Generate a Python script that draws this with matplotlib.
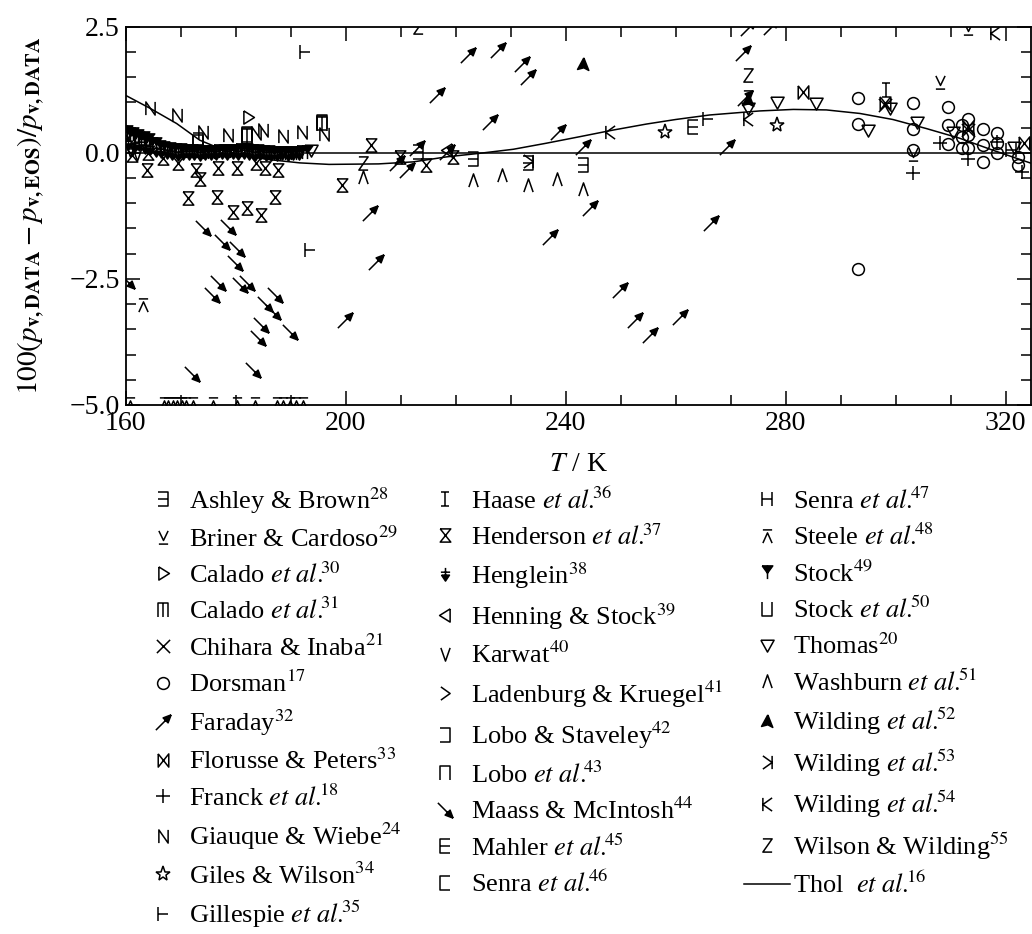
import matplotlib
matplotlib.use("Agg")
import matplotlib.pyplot as plt
from matplotlib.path import Path
from matplotlib.ticker import MultipleLocator, FuncFormatter

plt.rcParams['font.family'] = ['Liberation Serif', 'DejaVu Serif']
plt.rcParams['mathtext.fontset'] = 'stix'

''' Datos leidos de la figura: desviaciones en % frente a T / K '''

ASHLEY_T = [213.2, 223.2, 233.2, 243.2]
ASHLEY_D = [0.02, -0.13, -0.21, -0.24]
BRINER_T = [303.2, 308.0, 313.2]
BRINER_D = [-0.02, 1.41, 2.47]
CALADO30_T = [182.3]
CALADO30_D = [0.71]
CALADO31_T = [182.0, 195.7]
CALADO31_D = [0.33, 0.57]
CHIHARA_T = [298.0, 313.2]
CHIHARA_D = [0.95, 0.45]
DORSMAN_T = [293.2, 293.2, 293.2, 303.2, 303.2, 303.2, 309.5, 309.5, 309.5, 312.0, 312.0, 312.0,
             313.2, 313.2, 313.2, 315.9, 315.9, 315.9, 318.4, 318.4, 318.4, 322.2, 322.2]
DORSMAN_D = [1.08, 0.57, -2.31, 0.99, 0.48, 0.05, 0.91, 0.55, 0.17, 0.55, 0.32, 0.09,
             0.68, 0.35, 0.09, 0.48, 0.15, -0.18, 0.40, 0.19, -0.01, -0.08, -0.24]
FARADAY_T = [199.9, 204.4, 205.6, 209.3, 211.1, 212.9, 216.6, 218.4, 222.3, 226.2, 227.7, 232.0,
             233.2, 237.1, 238.6, 243.2, 244.4, 249.9, 252.6, 255.3, 260.8, 266.5, 269.3, 272.3,
             272.6, 273.2, 277.4]
FARADAY_D = [-3.32, -1.20, -2.16, -0.21, -0.34, 0.09, 1.14, 0.02, 1.94, 0.62, 2.04, 1.77,
             1.51, -1.67, 0.42, 0.12, -1.10, -2.72, -3.32, -3.62, -3.25, -1.40, 0.12, 1.97,
             1.08, 2.47, 2.50]
FLORUSSE_T = [283.2, 298.0, 313.2, 323.4]
FLORUSSE_D = [1.21, 0.98, 0.52, 0.19]
FRANCK_T = [303.2, 308.0, 313.2, 318.4, 323.0]
FRANCK_D = [-0.41, 0.20, -0.13, 0.22, -0.38]
GIAUQUE_T = [164.5, 169.3, 174.1, 178.7, 183.8, 185.0, 188.6, 192.0, 196.1]
GIAUQUE_D = [0.88, 0.75, 0.42, 0.35, 0.40, 0.45, 0.33, 0.42, 0.38]
GILES_T = [258.0, 278.4]
GILES_D = [0.42, 0.55]
GILLESPIE_T = [192.6, 193.5, 265.9]
GILLESPIE_D = [2.00, -1.93, 0.68]
HAASE_T = [298.3]
HAASE_D = [1.24]
HENDERSON_T = [160.5, 161.1, 163.9, 164.1, 166.9, 169.6, 171.4, 172.9, 173.5, 176.6, 176.9, 179.6,
               180.2, 182.0, 183.8, 184.7, 185.3, 187.2, 187.8, 199.3, 204.7, 209.9, 214.7, 219.6]
HENDERSON_D = [0.29, -0.05, -0.34, -0.01, -0.11, -0.21, -0.90, -0.34, -0.51, -0.87, -0.31, -1.17,
               -0.31, -1.10, -0.21, -1.24, -0.31, -0.87, -0.34, -0.64, 0.15, -0.08, -0.24, -0.08]
HENGLEIN_T = [160.5, 161.5, 162.5, 163.5, 164.5, 165.5, 166.5, 167.5, 168.5, 169.5, 170.5, 171.5,
              172.5, 173.5, 174.5, 175.5, 176.5, 177.5, 178.5, 179.5, 180.5, 181.5, 182.5, 183.5,
              184.5, 185.5, 186.5, 187.5, 188.5, 189.5, 190.5, 191.5]
HENGLEIN_D = [0.20, 0.15, 0.18, 0.12, 0.10, 0.05, 0.04, 0.02, 0.00, -0.02, 0.00, -0.01,
              0.00, -0.02, 0.00, -0.01, 0.00, 0.01, 0.00, 0.02, 0.00, 0.01, 0.00, -0.02,
              0.00, -0.02, -0.03, -0.02, -0.01, -0.02, 0.00, -0.01]
HENNING_T = [218.4]
HENNING_D = [0.05]
KARWAT_T = [160.8, 162.0]
KARWAT_D = [0.05, -0.02]
LADENBURG_T = [160.6]
LADENBURG_D = [0.40]
LOBO_STAV_T = [173.2]
LOBO_STAV_D = [0.25]
LOBO_T = [173.2, 182.0, 195.7]
LOBO_D = [0.22, 0.38, 0.62]
MAASS_T = [160.3, 172.0, 174.1, 175.7, 176.9, 177.5, 178.7, 179.9, 180.2, 180.8, 182.0, 183.2,
           184.1, 184.7, 185.3, 186.9, 187.2, 189.9]
MAASS_D = [-2.55, -4.38, -1.50, -2.82, -2.59, -1.77, -1.47, -2.19, -1.90, -2.62, -2.59, -4.31,
           -3.68, -3.42, -2.99, -3.15, -2.82, -3.55]
MAHLER_T = [263.2]
MAHLER_D = [0.52]
SENRA46_T = [182.0, 195.7]
SENRA46_D = [0.36, 0.60]
SENRA47_T = [321.0]
SENRA47_D = [0.05]
STEELE_T = [160.8, 163.2, 167.0, 167.8, 168.6, 169.4, 170.2, 171.0, 172.2, 175.9, 180.2, 183.5,
            187.5, 188.6, 189.9, 191.0, 192.3]
STEELE_D = [-4.98, -3.02, -4.98, -4.98, -4.98, -4.98, -4.98, -4.98, -4.98, -4.98, -4.98, -4.98,
            -4.98, -4.98, -4.98, -4.98, -4.98]
STOCK49_T = [160.3, 160.8, 161.3, 161.8, 162.3, 162.8, 163.3, 163.8, 164.3, 164.8, 165.5, 166.2,
             167.0, 168.0, 169.0, 170.0, 171.0, 172.0, 173.0, 174.0, 175.0, 176.0, 177.0, 178.0,
             179.0, 180.0, 181.0, 182.0, 183.0, 184.0, 185.0, 186.0, 187.0, 188.0, 189.0, 190.0,
             191.0, 192.0, 193.0]
STOCK49_D = [0.42, 0.35, 0.38, 0.30, 0.33, 0.27, 0.30, 0.22, 0.25, 0.18, 0.17, 0.12,
             0.10, 0.08, 0.06, 0.05, 0.04, 0.03, 0.03, 0.02, 0.02, 0.02, 0.03, 0.03,
             0.04, 0.04, 0.05, 0.05, 0.04, 0.03, 0.02, 0.01, 0.00, 0.00, 0.00, 0.00,
             0.00, 0.01, 0.02]
STOCK50_T = [173.2, 182.0]
STOCK50_D = [0.20, 0.32]
THOMAS_T = [193.8, 273.2, 278.4, 285.6, 295.0, 298.9, 303.8, 310.4, 321.6]
THOMAS_D = [0.05, 0.88, 1.01, 0.98, 0.45, 0.88, 0.62, 0.42, 0.12]
WASHBURN_T = [203.2, 223.2, 228.4, 233.2, 238.4, 243.2]
WASHBURN_D = [-0.48, -0.54, -0.44, -0.64, -0.51, -0.71]
WILDING52_T = [243.2, 273.2]
WILDING52_D = [1.77, 1.05]
WILDING53_T = [233.2]
WILDING53_D = [-0.16]
WILDING54_T = [248.0, 273.2, 318.0]
WILDING54_D = [0.42, 0.68, 2.37]
WILSON_T = [203.2, 213.2, 273.2, 273.2]
WILSON_D = [-0.21, 2.50, 1.54, 1.11]

# ecuacion de Thol et al.
THOL_T = [160, 164.5, 169.3, 173.5, 176.6, 179.6, 185.7, 191.7, 197.0, 206.0, 212.3, 218.4, 224.4,
          230.5, 236.5, 242.6, 248.6, 254.7, 260.0, 266.2, 275.3, 281.4, 287.4, 293.5, 299.5,
          305.6, 311.6, 317.7, 324.7]
THOL_D = [1.14, 0.88, 0.58, 0.25, 0.11, -0.01, -0.13, -0.20, -0.23, -0.22, -0.18, -0.08, -0.01,
          0.07, 0.19, 0.32, 0.45, 0.57, 0.66, 0.75, 0.83, 0.86, 0.85, 0.78, 0.66,
          0.48, 0.29, 0.05, -0.21]


''' Simbolos: trazos sobre un cuadrado [-1, 1] '''

def glyph(*strokes):
    verts, codes = [], []
    for s in strokes:
        verts += s
        codes += [Path.MOVETO] + [Path.LINETO] * (len(s) - 1)
    return Path(verts, codes)

M_EXISTS = glyph([(-0.7, 1), (0.7, 1), (0.7, -1), (-0.7, -1)], [(-0.7, 0), (0.7, 0)])
M_VEEBAR = glyph([(-0.7, 1), (0, -0.45), (0.7, 1)], [(-0.7, -1), (0.7, -1)])
M_TRIR = glyph([(-0.7, 1), (0.9, 0), (-0.7, -1), (-0.7, 1)])
M_TRIL = glyph([(0.7, 1), (-0.9, 0), (0.7, -1), (0.7, 1)])
M_TRID = glyph([(-1, 0.8), (1, 0.8), (0, -1), (-1, 0.8)])
M_COMB = glyph([(-0.8, -1), (-0.8, 1), (0.8, 1), (0.8, -1)], [(0, 1), (0, -1)])
M_TIMES = glyph([(-1, -1), (1, 1)], [(-1, 1), (1, -1)])
M_PLUS = glyph([(-1, 0), (1, 0)], [(0, -1), (0, 1)])
M_NE = glyph([(-1, -1), (0.3, 0.3)], [(1, 1), (-0.05, 0.6), (0.6, -0.05), (1, 1)])
M_SE = glyph([(-1, 1), (0.3, -0.3)], [(1, -1), (-0.05, -0.6), (0.6, 0.05), (1, -1)])
M_BOWTIE = glyph([(-0.8, 1), (-0.8, -1), (0.8, 1), (0.8, -1), (-0.8, 1)])
M_N = glyph([(-0.7, -1), (-0.7, 1), (0.7, -1), (0.7, 1)])
M_VDASH = glyph([(-0.7, 1), (-0.7, -1)], [(-0.7, 0), (0.8, 0)])
M_IBEAM = glyph([(-0.6, 1), (0.6, 1)], [(0, 1), (0, -1)], [(-0.6, -1), (0.6, -1)])
M_HOURGL = glyph([(-0.8, 1), (0.8, 1), (-0.8, -1), (0.8, -1), (-0.8, 1)])
M_HENGL = glyph([(0, 1), (0, -0.1)], [(-0.7, 0.35), (0.7, 0.35)], [(-0.6, -0.1), (0.6, -0.1), (0, -1), (-0.6, -0.1)])
M_VEE = glyph([(-0.7, 1), (0, -1), (0.7, 1)])
M_WEDGE = glyph([(-0.7, -1), (0, 1), (0.7, -1)])
M_GT = glyph([(-0.7, 1), (0.7, 0), (-0.7, -1)])
M_SQSUP = glyph([(-0.7, 1), (0.7, 1), (0.7, -1), (-0.7, -1)])
M_SQSUB = glyph([(0.7, 1), (-0.7, 1), (-0.7, -1), (0.7, -1)])
M_SQCAP = glyph([(-0.7, -1), (-0.7, 1), (0.7, 1), (0.7, -1)])
M_SQCUP = glyph([(-0.7, 1), (-0.7, -1), (0.7, -1), (0.7, 1)])
M_E = glyph([(0.7, 1), (-0.7, 1), (-0.7, -1), (0.7, -1)], [(-0.7, 0), (0.7, 0)])
M_H = glyph([(-0.7, 1), (-0.7, -1)], [(0.7, 1), (0.7, -1)], [(-0.7, 0), (0.7, 0)])
M_BARWEDGE = glyph([(-0.7, 1), (0.7, 1)], [(-0.7, -1), (0, 0.55), (0.7, -1)])
M_STOCK = glyph([(-0.8, 1), (0.8, 1), (0, -0.1), (-0.8, 1)], [(0, 1), (0, -1)])
M_ARROWHD = glyph([(0.05, 1), (0.8, -0.9), (0.05, -0.5), (-0.9, -0.75), (0.05, 1)])
M_RK = glyph([(0.7, 1), (0.7, -1)], [(-0.7, 1), (0.7, 0), (-0.7, -1)])
M_K = glyph([(-0.7, 1), (-0.7, -1)], [(0.7, 1), (-0.7, 0), (0.7, -1)])
M_Z = glyph([(-0.7, 1), (0.7, 1), (-0.7, -1), (0.7, -1)])

ETAL = r'$\mathit{et\ al.}\!\!^{%d}$'

SERIES = [
    ('Ashley & Brown$^{28}$', ASHLEY_T, ASHLEY_D, M_EXISTS, False),
    ('Briner & Cardoso$^{29}$', BRINER_T, BRINER_D, M_VEEBAR, False),
    ('Calado ' + ETAL % 30, CALADO30_T, CALADO30_D, M_TRIR, False),
    ('Calado ' + ETAL % 31, CALADO31_T, CALADO31_D, M_COMB, False),
    ('Chihara & Inaba$^{21}$', CHIHARA_T, CHIHARA_D, M_TIMES, False),
    ('Dorsman$^{17}$', DORSMAN_T, DORSMAN_D, 'o', False),
    ('Faraday$^{32}$', FARADAY_T, FARADAY_D, M_NE, True),
    ('Florusse & Peters$^{33}$', FLORUSSE_T, FLORUSSE_D, M_BOWTIE, False),
    ('Franck ' + ETAL % 18, FRANCK_T, FRANCK_D, M_PLUS, False),
    ('Giauque & Wiebe$^{24}$', GIAUQUE_T, GIAUQUE_D, M_N, False),
    ('Giles & Wilson$^{34}$', GILES_T, GILES_D, '*', False),
    ('Gillespie ' + ETAL % 35, GILLESPIE_T, GILLESPIE_D, M_VDASH, False),
    ('Haase ' + ETAL % 36, HAASE_T, HAASE_D, M_IBEAM, False),
    ('Henderson ' + ETAL % 37, HENDERSON_T, HENDERSON_D, M_HOURGL, False),
    ('Henglein$^{38}$', HENGLEIN_T, HENGLEIN_D, M_HENGL, True),
    ('Henning & Stock$^{39}$', HENNING_T, HENNING_D, M_TRIL, False),
    ('Karwat$^{40}$', KARWAT_T, KARWAT_D, M_VEE, False),
    ('Ladenburg & Kruegel$^{41}$', LADENBURG_T, LADENBURG_D, M_GT, False),
    ('Lobo & Staveley$^{42}$', LOBO_STAV_T, LOBO_STAV_D, M_SQSUP, False),
    ('Lobo ' + ETAL % 43, LOBO_T, LOBO_D, M_SQCAP, False),
    ('Maass & McIntosh$^{44}$', MAASS_T, MAASS_D, M_SE, True),
    ('Mahler ' + ETAL % 45, MAHLER_T, MAHLER_D, M_E, False),
    ('Senra ' + ETAL % 46, SENRA46_T, SENRA46_D, M_SQSUB, False),
    ('Senra ' + ETAL % 47, SENRA47_T, SENRA47_D, M_H, False),
    ('Steele ' + ETAL % 48, STEELE_T, STEELE_D, M_BARWEDGE, False),
    ('Stock$^{49}$', STOCK49_T, STOCK49_D, M_STOCK, True),
    ('Stock ' + ETAL % 50, STOCK50_T, STOCK50_D, M_SQCUP, False),
    ('Thomas$^{20}$', THOMAS_T, THOMAS_D, M_TRID, False),
    ('Washburn ' + ETAL % 51, WASHBURN_T, WASHBURN_D, M_WEDGE, False),
    ('Wilding ' + ETAL % 52, WILDING52_T, WILDING52_D, M_ARROWHD, True),
    ('Wilding ' + ETAL % 53, WILDING53_T, WILDING53_D, M_RK, False),
    ('Wilding ' + ETAL % 54, WILDING54_T, WILDING54_D, M_K, False),
    ('Wilson & Wilding$^{55}$', WILSON_T, WILSON_D, M_Z, False),
]


''' Figura '''

W, H = 1032, 934
fig = plt.figure(figsize=(W / 100, H / 100), dpi=100)
ax = fig.add_axes([125.5 / W, 1 - 405 / H, (1031 - 125.5) / W, (405 - 26.7) / H])

handles = []
for label, t, d, mk, filled in SERIES:
    if mk == '*':
        ms = 11
    elif mk == 'o':
        ms = 8.5
    elif mk is M_NE or mk is M_SE:
        ms = 11
    else:
        ms = 9.5
    h, = ax.plot(t, d, linestyle='none', marker=mk, ms=ms, mew=1.1, color='k',
                 mfc='k' if filled else 'none', label=label)
    handles.append(h)

ax.axhline(0, color='k', lw=1.1)
thol, = ax.plot(THOL_T, THOL_D, color='k', lw=1.1, label=r'Thol  $\mathit{et\ al.}\!\!^{16}$')
handles.append(thol)

ax.set_xlim(160, 324.6)
ax.set_ylim(-5, 2.5)
ax.xaxis.set_major_locator(MultipleLocator(40))
ax.xaxis.set_minor_locator(MultipleLocator(10))
ax.yaxis.set_major_locator(MultipleLocator(2.5))
ax.yaxis.set_minor_locator(MultipleLocator(0.5))
ax.yaxis.set_major_formatter(FuncFormatter(lambda v, p: f'{v:.1f}'.replace('-', '\u2212')))
ax.tick_params(which='both', direction='in', top=True, right=True, labelsize=20, width=1.1)
ax.tick_params(which='major', length=10, pad=4)
ax.tick_params(which='minor', length=7)
for s in ax.spines.values():
    s.set_linewidth(1.3)

ax.set_xlabel(r'$T$ / K', fontsize=20, labelpad=12)
ax.set_ylabel(r'$100(p_{\mathbf{v,DATA}}-p_{\mathbf{v,EOS}})/p_{\mathbf{v,DATA}}$', fontsize=21, labelpad=16)

fig.legend(handles=handles, ncol=3, loc='upper left', bbox_to_anchor=(140 / W, 1 - 485 / H),
           frameon=False, borderpad=0, borderaxespad=0, handlelength=1.75, handletextpad=0.1,
           columnspacing=0.8, labelspacing=0.39, fontsize=19)

fig.savefig('out.png', dpi=100)
